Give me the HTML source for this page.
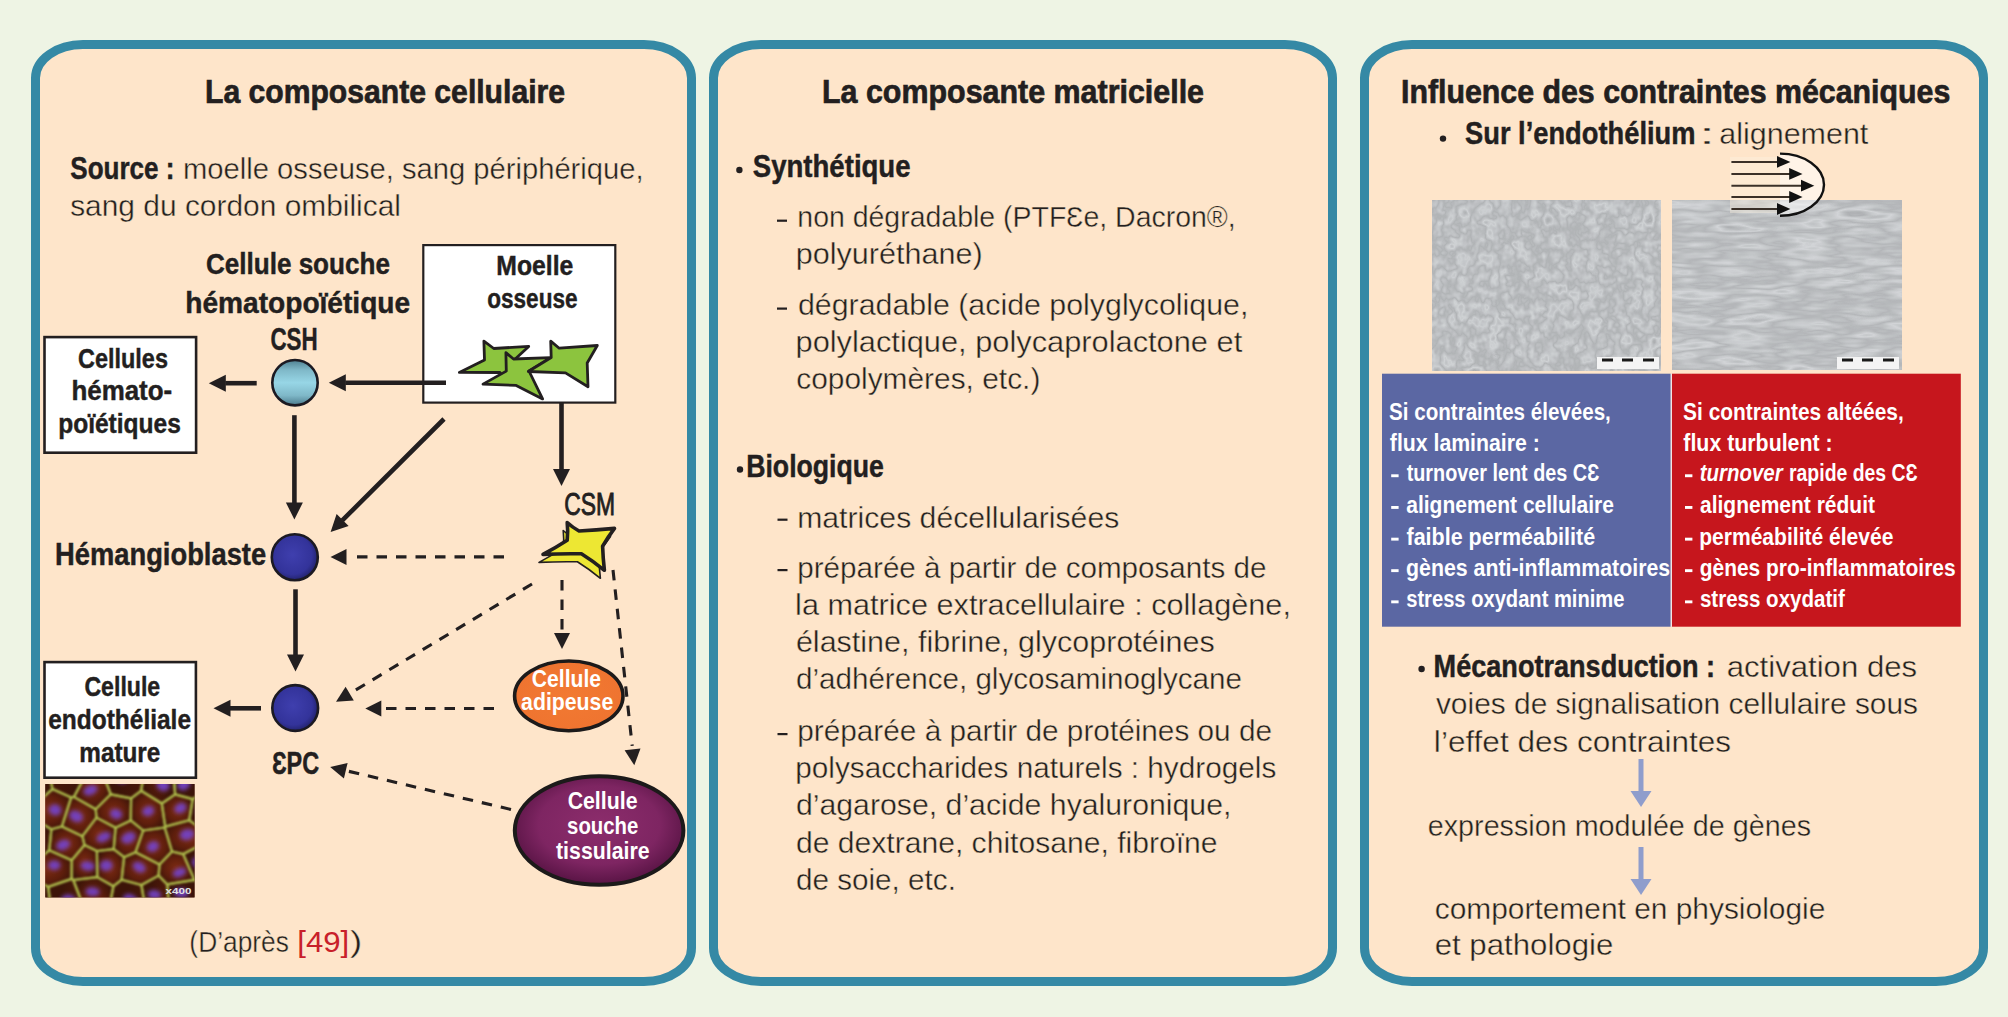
<!DOCTYPE html>
<html><head><meta charset="utf-8"><style>
html,body{margin:0;padding:0;background:#eef4e4;width:2008px;height:1017px;overflow:hidden}
svg{display:block;font-family:'Liberation Sans', sans-serif}
</style></head><body>
<svg width="2008" height="1017" viewBox="0 0 2008 1017">
<defs><linearGradient id="gCSH" x1="0" y1="0" x2="0" y2="1"><stop offset="0" stop-color="#4f8091"/><stop offset="0.22" stop-color="#7fb8c8"/><stop offset="0.5" stop-color="#97d6e6"/><stop offset="0.78" stop-color="#7fb8c8"/><stop offset="1" stop-color="#4b7a8c"/></linearGradient>
<radialGradient id="gBlue" cx="0.45" cy="0.45" r="0.6"><stop offset="0" stop-color="#3f3fae"/><stop offset="0.7" stop-color="#33339a"/><stop offset="1" stop-color="#1e1e60"/></radialGradient>
<radialGradient id="gOrange" cx="0.5" cy="0.5" r="0.6"><stop offset="0" stop-color="#f27a32"/><stop offset="0.8" stop-color="#ef7430"/><stop offset="1" stop-color="#d8601f"/></radialGradient>
<radialGradient id="gPurple" cx="0.5" cy="0.45" r="0.6"><stop offset="0" stop-color="#8c2d6c"/><stop offset="0.6" stop-color="#7e2562"/><stop offset="1" stop-color="#4e0f3c"/></radialGradient>
<clipPath id="cFluo"><rect x="45.3" y="784.1" width="149.3" height="113.3"/></clipPath>
<radialGradient id="gCellF" cx="0.5" cy="0.5" r="0.55"><stop offset="0" stop-color="#7e2c12"/><stop offset="0.6" stop-color="#5e1e0c"/><stop offset="1" stop-color="#3c1408"/></radialGradient>
<filter id="fBl1" x="-20%" y="-20%" width="140%" height="140%"><feGaussianBlur stdDeviation="2.0"/></filter>
<filter id="fBl2" x="-20%" y="-20%" width="140%" height="140%"><feGaussianBlur stdDeviation="1.0"/></filter>
<filter id="fMicroA" x="0" y="0" width="100%" height="100%" color-interpolation-filters="sRGB"><feTurbulence type="fractalNoise" baseFrequency="0.07 0.06" numOctaves="3" seed="3" result="n"/><feColorMatrix in="n" type="matrix" values="0.33 0.33 0.33 0 0  0.33 0.33 0.33 0 0  0.33 0.33 0.33 0 0  0 0 0 0 1" result="g"/><feComponentTransfer in="g" result="t"><feFuncR type="table" tableValues="0.715 0.795 0.675 0.815 0.695 0.805 0.685 0.785 0.725"/><feFuncG type="table" tableValues="0.725 0.805 0.685 0.825 0.705 0.815 0.695 0.795 0.735"/><feFuncB type="table" tableValues="0.735 0.815 0.695 0.835 0.715 0.825 0.705 0.805 0.745"/></feComponentTransfer><feGaussianBlur in="t" stdDeviation="0.6"/></filter>
<filter id="fMicroB" x="0" y="0" width="100%" height="100%" color-interpolation-filters="sRGB"><feTurbulence type="fractalNoise" baseFrequency="0.018 0.09" numOctaves="3" seed="7" result="n"/><feColorMatrix in="n" type="matrix" values="0.33 0.33 0.33 0 0  0.33 0.33 0.33 0 0  0.33 0.33 0.33 0 0  0 0 0 0 1" result="g"/><feComponentTransfer in="g" result="t"><feFuncR type="table" tableValues="0.725 0.805 0.685 0.825 0.705 0.815 0.695 0.795 0.735"/><feFuncG type="table" tableValues="0.735 0.815 0.695 0.835 0.715 0.825 0.705 0.805 0.745"/><feFuncB type="table" tableValues="0.745 0.825 0.705 0.845 0.725 0.835 0.715 0.815 0.755"/></feComponentTransfer><feGaussianBlur in="t" stdDeviation="0.6"/></filter></defs>
<rect x="35.5" y="44.5" width="656" height="937" rx="47.5" ry="33.5" fill="#fee5ca" stroke="#3589a5" stroke-width="9"/>
<rect x="713.5" y="44.5" width="619" height="937" rx="47.5" ry="33.5" fill="#fee5ca" stroke="#3589a5" stroke-width="9"/>
<rect x="1364.5" y="44.5" width="619" height="937" rx="47.5" ry="33.5" fill="#fee5ca" stroke="#3589a5" stroke-width="9"/>
<text x="204.98" y="103" font-size="34" font-weight="bold" textLength="360.05" lengthAdjust="spacingAndGlyphs" fill="#231f20" stroke="#231f20" stroke-width="0.7">La composante cellulaire</text>
<text x="821.97" y="103" font-size="34" font-weight="bold" textLength="382.07" lengthAdjust="spacingAndGlyphs" fill="#231f20" stroke="#231f20" stroke-width="0.7">La composante matricielle</text>
<text x="1400.97" y="103" font-size="34" font-weight="bold" textLength="549.27" lengthAdjust="spacingAndGlyphs" fill="#231f20" stroke="#231f20" stroke-width="0.7">Influence des contraintes mécaniques</text>
<text x="70.25" y="178.6" font-size="32" font-weight="bold" textLength="104.26" lengthAdjust="spacingAndGlyphs" fill="#231f20" stroke="#231f20" stroke-width="0.45">Source :</text>
<text x="183.06" y="178.6" font-size="30" textLength="460.56" lengthAdjust="spacingAndGlyphs" fill="#231f20" stroke="#fee5ca" stroke-width="0.4">moelle osseuse, sang périphérique,</text>
<text x="70.17" y="215.5" font-size="30" textLength="330.83" lengthAdjust="spacingAndGlyphs" fill="#231f20" stroke="#fee5ca" stroke-width="0.4">sang du cordon ombilical</text>
<text x="189.37" y="951.5" font-size="30" textLength="99.59" lengthAdjust="spacingAndGlyphs" fill="#231f20" stroke="#fee5ca" stroke-width="0.4">(D’après</text>
<text x="297.28" y="951.5" font-size="30" textLength="51.94" lengthAdjust="spacingAndGlyphs" fill="#c8202a" >[49]</text>
<text x="349.78" y="951.5" font-size="30" textLength="12.56" lengthAdjust="spacingAndGlyphs" fill="#231f20" stroke="#fee5ca" stroke-width="0.4">)</text>
<circle cx="739.4" cy="170" r="3.2" fill="#231f20"/>
<text x="752.81" y="177.4" font-size="32" font-weight="bold" textLength="157.74" lengthAdjust="spacingAndGlyphs" fill="#231f20" stroke="#231f20" stroke-width="0.45">Synthétique</text>
<rect x="777" y="219.6" width="10" height="2.2" fill="#231f20"/>
<text x="797.31" y="227.4" font-size="30" textLength="438.45" lengthAdjust="spacingAndGlyphs" fill="#231f20" stroke="#fee5ca" stroke-width="0.4">non dégradable (PTFƐe, Dacron®,</text>
<text x="795.73" y="264.3" font-size="30" textLength="186.86" lengthAdjust="spacingAndGlyphs" fill="#231f20" stroke="#fee5ca" stroke-width="0.4">polyuréthane)</text>
<rect x="777" y="307.5" width="10" height="2.2" fill="#231f20"/>
<text x="797.93" y="315.2" font-size="30" textLength="450.5" lengthAdjust="spacingAndGlyphs" fill="#231f20" stroke="#fee5ca" stroke-width="0.4">dégradable (acide polyglycolique,</text>
<text x="795.52" y="352.2" font-size="30" textLength="446.71" lengthAdjust="spacingAndGlyphs" fill="#231f20" stroke="#fee5ca" stroke-width="0.4">polylactique, polycaprolactone et</text>
<text x="796.23" y="389.3" font-size="30" textLength="244.12" lengthAdjust="spacingAndGlyphs" fill="#231f20" stroke="#fee5ca" stroke-width="0.4">copolymères, etc.)</text>
<circle cx="740" cy="469.5" r="3.2" fill="#231f20"/>
<text x="746.22" y="477" font-size="32" font-weight="bold" textLength="137.69" lengthAdjust="spacingAndGlyphs" fill="#231f20" stroke="#231f20" stroke-width="0.45">Biologique</text>
<rect x="777.5" y="518.6" width="10" height="2.2" fill="#231f20"/>
<text x="797.2" y="527.6" font-size="30" textLength="322.1" lengthAdjust="spacingAndGlyphs" fill="#231f20" stroke="#fee5ca" stroke-width="0.4">matrices décellularisées</text>
<rect x="777.5" y="569" width="10" height="2.2" fill="#231f20"/>
<text x="797.29" y="577.5" font-size="30" textLength="469.22" lengthAdjust="spacingAndGlyphs" fill="#231f20" stroke="#fee5ca" stroke-width="0.4">préparée à partir de composants de</text>
<text x="795.13" y="615" font-size="30" textLength="495.82" lengthAdjust="spacingAndGlyphs" fill="#231f20" stroke="#fee5ca" stroke-width="0.4">la matrice extracellulaire : collagène,</text>
<text x="795.9" y="652.2" font-size="30" textLength="418.9" lengthAdjust="spacingAndGlyphs" fill="#231f20" stroke="#fee5ca" stroke-width="0.4">élastine, fibrine, glycoprotéines</text>
<text x="795.96" y="689.4" font-size="30" textLength="446.06" lengthAdjust="spacingAndGlyphs" fill="#231f20" stroke="#fee5ca" stroke-width="0.4">d’adhérence, glycosaminoglycane</text>
<rect x="777.5" y="733" width="10" height="2.2" fill="#231f20"/>
<text x="797.28" y="741" font-size="30" textLength="474.74" lengthAdjust="spacingAndGlyphs" fill="#231f20" stroke="#fee5ca" stroke-width="0.4">préparée à partir de protéines ou de</text>
<text x="795.28" y="777.5" font-size="30" textLength="480.99" lengthAdjust="spacingAndGlyphs" fill="#231f20" stroke="#fee5ca" stroke-width="0.4">polysaccharides naturels : hydrogels</text>
<text x="795.93" y="815.2" font-size="30" textLength="435.49" lengthAdjust="spacingAndGlyphs" fill="#231f20" stroke="#fee5ca" stroke-width="0.4">d’agarose, d’acide hyaluronique,</text>
<text x="795.94" y="852.5" font-size="30" textLength="421.6" lengthAdjust="spacingAndGlyphs" fill="#231f20" stroke="#fee5ca" stroke-width="0.4">de dextrane, chitosane, fibroïne</text>
<text x="795.95" y="889.8" font-size="30" textLength="159.95" lengthAdjust="spacingAndGlyphs" fill="#231f20" stroke="#fee5ca" stroke-width="0.4">de soie, etc.</text>
<circle cx="1443" cy="138.6" r="3.2" fill="#231f20"/>
<text x="1465.01" y="144.4" font-size="32" font-weight="bold" textLength="230.48" lengthAdjust="spacingAndGlyphs" fill="#231f20" stroke="#231f20" stroke-width="0.45">Sur l’endothélium</text>
<text x="1698.25" y="144.4" font-size="30" textLength="17.51" lengthAdjust="spacingAndGlyphs" fill="#231f20" stroke="#fee5ca" stroke-width="0.4">:</text>
<text x="1719.31" y="144.4" font-size="30" textLength="149.02" lengthAdjust="spacingAndGlyphs" fill="#231f20" stroke="#fee5ca" stroke-width="0.4">alignement</text>
<circle cx="1421.6" cy="669" r="3.2" fill="#231f20"/>
<text x="1433.59" y="676.5" font-size="32" font-weight="bold" textLength="281.42" lengthAdjust="spacingAndGlyphs" fill="#231f20" stroke="#231f20" stroke-width="0.45">Mécanotransduction :</text>
<text x="1726.68" y="676.5" font-size="30" textLength="190.45" lengthAdjust="spacingAndGlyphs" fill="#231f20" stroke="#fee5ca" stroke-width="0.4">activation des</text>
<text x="1435.9" y="714.3" font-size="30" textLength="482.18" lengthAdjust="spacingAndGlyphs" fill="#231f20" stroke="#fee5ca" stroke-width="0.4">voies de signalisation cellulaire sous</text>
<text x="1433.88" y="752.2" font-size="30" textLength="297.26" lengthAdjust="spacingAndGlyphs" fill="#231f20" stroke="#fee5ca" stroke-width="0.4">l’effet des contraintes</text>
<text x="1427.78" y="835.9" font-size="30" textLength="383.26" lengthAdjust="spacingAndGlyphs" fill="#231f20" stroke="#fee5ca" stroke-width="0.4">expression modulée de gènes</text>
<text x="1434.73" y="919" font-size="30" textLength="390.6" lengthAdjust="spacingAndGlyphs" fill="#231f20" stroke="#fee5ca" stroke-width="0.4">comportement en physiologie</text>
<text x="1434.67" y="955" font-size="30" textLength="178.71" lengthAdjust="spacingAndGlyphs" fill="#231f20" stroke="#fee5ca" stroke-width="0.4">et pathologie</text>
<rect x="44.5" y="337.1" width="151.6" height="115.6" fill="#ffffff" stroke="#231f20" stroke-width="2.6"/>
<rect x="44.5" y="662.0999999999999" width="151.4" height="115.60000000000005" fill="#ffffff" stroke="#231f20" stroke-width="2.6"/>
<rect x="423.3" y="245.1" width="192.0" height="157.5" fill="#ffffff" stroke="#231f20" stroke-width="2.2"/>
<text x="205.93" y="274.3" font-size="30" font-weight="bold" textLength="183.96" lengthAdjust="spacingAndGlyphs" fill="#231f20" stroke="#231f20" stroke-width="0.45">Cellule souche</text>
<text x="185.24" y="312.5" font-size="30" font-weight="bold" textLength="224.92" lengthAdjust="spacingAndGlyphs" fill="#231f20" stroke="#231f20" stroke-width="0.45">hématopoïétique</text>
<text x="270.48" y="349.6" font-size="32" font-weight="bold" textLength="47.22" lengthAdjust="spacingAndGlyphs" fill="#231f20" stroke="#231f20" stroke-width="0.45">CSH</text>
<text x="78.04" y="367.7" font-size="28" font-weight="bold" textLength="89.92" lengthAdjust="spacingAndGlyphs" fill="#231f20" stroke="#231f20" stroke-width="0.45">Cellules</text>
<text x="71.39" y="400.3" font-size="28" font-weight="bold" textLength="100.85" lengthAdjust="spacingAndGlyphs" fill="#231f20" stroke="#231f20" stroke-width="0.45">hémato-</text>
<text x="58.18" y="432.9" font-size="28" font-weight="bold" textLength="122.62" lengthAdjust="spacingAndGlyphs" fill="#231f20" stroke="#231f20" stroke-width="0.45">poïétiques</text>
<text x="84.45" y="695.6" font-size="28" font-weight="bold" textLength="75.74" lengthAdjust="spacingAndGlyphs" fill="#231f20" stroke="#231f20" stroke-width="0.45">Cellule</text>
<text x="48.24" y="729.1" font-size="28" font-weight="bold" textLength="142.79" lengthAdjust="spacingAndGlyphs" fill="#231f20" stroke="#231f20" stroke-width="0.45">endothéliale</text>
<text x="79.3" y="762.1" font-size="28" font-weight="bold" textLength="81.03" lengthAdjust="spacingAndGlyphs" fill="#231f20" stroke="#231f20" stroke-width="0.45">mature</text>
<text x="496.34" y="275.4" font-size="28" font-weight="bold" textLength="77.0" lengthAdjust="spacingAndGlyphs" fill="#231f20" stroke="#231f20" stroke-width="0.45">Moelle</text>
<text x="487.22" y="308.1" font-size="28" font-weight="bold" textLength="90.35" lengthAdjust="spacingAndGlyphs" fill="#231f20" stroke="#231f20" stroke-width="0.45">osseuse</text>
<text x="55.07" y="564.5" font-size="31" font-weight="bold" textLength="211.06" lengthAdjust="spacingAndGlyphs" fill="#231f20" stroke="#231f20" stroke-width="0.45">Hémangioblaste</text>
<text x="271.92" y="773.7" font-size="31" font-weight="bold" textLength="47.22" lengthAdjust="spacingAndGlyphs" fill="#231f20" stroke="#231f20" stroke-width="0.45">ƐPC</text>
<text x="564.34" y="515.4" font-size="31" textLength="50.84" lengthAdjust="spacingAndGlyphs" fill="#231f20" stroke="#231f20" stroke-width="0.9">CSM</text>
<polygon points="483.9,341.1 493.8,348.5 528.7,346.4 512.0,362.0 506.0,381.0 500.0,372.5 459.3,372.4 484.5,360.0" fill="#8cc43e" stroke="#231f20" stroke-width="2.8" stroke-linejoin="round"/>
<polygon points="505.9,352.7 513.5,359.0 550.5,357.6 529.0,371.0 542.6,398.9 516.2,385.4 483.0,384.1 506.3,371.1" fill="#8cc43e" stroke="#231f20" stroke-width="2.8" stroke-linejoin="round"/>
<polygon points="550.7,341.1 559.2,348.2 597.3,345.5 587.2,363.0 588.0,386.8 565.5,372.9 528.3,371.5 551.2,357.6" fill="#8cc43e" stroke="#231f20" stroke-width="2.8" stroke-linejoin="round"/>
<circle cx="295" cy="382.7" r="22.7" fill="url(#gCSH)" stroke="#1c1a22" stroke-width="2.6"/>
<circle cx="294.8" cy="557.2" r="23.0" fill="url(#gBlue)" stroke="#1c1a22" stroke-width="2.6"/>
<circle cx="295.2" cy="708" r="22.9" fill="url(#gBlue)" stroke="#1c1a22" stroke-width="2.6"/>
<line x1="446.0" y1="382.7" x2="345.3" y2="382.7" stroke="#231f20" stroke-width="4.6"/>
<polygon points="328.8,382.7 345.8,374.2 345.8,391.2" fill="#231f20"/>
<line x1="256.7" y1="383.2" x2="225.3" y2="383.2" stroke="#231f20" stroke-width="4.6"/>
<polygon points="208.8,383.2 225.8,374.7 225.8,391.7" fill="#231f20"/>
<line x1="294.4" y1="415.2" x2="294.4" y2="503.0" stroke="#231f20" stroke-width="4.6"/>
<polygon points="294.4,519.5 285.9,502.5 302.9,502.5" fill="#231f20"/>
<line x1="444.0" y1="419.0" x2="342.3" y2="520.4" stroke="#231f20" stroke-width="4.6"/>
<polygon points="330.6,532.0 336.6,514.0 348.6,526.0" fill="#231f20"/>
<line x1="561.5" y1="403.0" x2="561.5" y2="469.5" stroke="#231f20" stroke-width="4.6"/>
<polygon points="561.5,486.0 553.0,469.0 570.0,469.0" fill="#231f20"/>
<line x1="295.5" y1="589.3" x2="295.5" y2="655.0" stroke="#231f20" stroke-width="4.6"/>
<polygon points="295.5,671.5 287.0,654.5 304.0,654.5" fill="#231f20"/>
<line x1="261.0" y1="708.3" x2="230.0" y2="708.3" stroke="#231f20" stroke-width="4.6"/>
<polygon points="213.5,708.3 230.5,699.8 230.5,716.8" fill="#231f20"/>
<path d="M563.2,530.5 Q568.2,535.2 575.0,539.0 Q591.8,538.1 610.5,536.4 Q604.0,545.0 598.6,554.1 Q599.0,565.9 600.4,578.3 Q589.5,569.4 577.4,561.8 Q558.8,561.4 539.0,562.4 Q552.1,555.4 563.2,548.2 Q564.2,539.5 563.2,530.5 Z" fill="#ede733" stroke="#231f20" stroke-width="1.6" stroke-linejoin="round"/>
<path d="M567.2,522.5 Q572.2,527.2 579.0,531.0 Q595.8,530.1 614.5,528.4 Q608.0,537.0 602.6,546.1 Q603.0,557.9 604.4,570.3 Q593.5,561.4 581.4,553.8 Q562.8,553.4 543.0,554.4 Q556.1,547.4 567.2,540.2 Q568.2,531.5 567.2,522.5 Z" fill="#ede733" stroke="#231f20" stroke-width="3.6" stroke-linejoin="round"/>
<line x1="504.0" y1="556.9" x2="355.0" y2="556.9" stroke="#231f20" stroke-width="3.1" stroke-dasharray="10.5 9"/>
<polygon points="330.5,556.9 346.5,548.9 346.5,564.9" fill="#231f20"/>
<line x1="532.0" y1="584.0" x2="352.7" y2="691.8" stroke="#231f20" stroke-width="3.1" stroke-dasharray="10.5 9"/>
<polygon points="336.0,701.8 345.6,686.7 353.8,700.4" fill="#231f20"/>
<line x1="562.0" y1="580.0" x2="562.0" y2="629.5" stroke="#231f20" stroke-width="3.1" stroke-dasharray="10.5 9"/>
<polygon points="562.0,649.0 554.0,633.0 570.0,633.0" fill="#231f20"/>
<line x1="494.0" y1="708.5" x2="381.8" y2="708.5" stroke="#231f20" stroke-width="3.1" stroke-dasharray="10.5 9"/>
<polygon points="365.3,708.5 381.3,700.5 381.3,716.5" fill="#231f20"/>
<line x1="613.0" y1="570.0" x2="632.2" y2="745.9" stroke="#231f20" stroke-width="3.1" stroke-dasharray="10.5 9"/>
<polygon points="634.3,765.3 624.6,750.3 640.5,748.5" fill="#231f20"/>
<line x1="511.0" y1="809.5" x2="348.2" y2="771.2" stroke="#231f20" stroke-width="3.1" stroke-dasharray="10.5 9"/>
<polygon points="330.2,767.0 347.6,762.9 343.9,778.4" fill="#231f20"/>
<ellipse cx="568.8" cy="695.9" rx="54.2" ry="34.9" fill="url(#gOrange)" stroke="#1c1a1a" stroke-width="3.6"/>
<ellipse cx="599.1" cy="830.5" rx="84.3" ry="54.3" fill="url(#gPurple)" stroke="#1c1a1a" stroke-width="4"/>
<text x="531.83" y="687.3" font-size="24" font-weight="bold" textLength="69.19" lengthAdjust="spacingAndGlyphs" fill="#ffffff" >Cellule</text>
<text x="521.08" y="710.3" font-size="24" font-weight="bold" textLength="92.15" lengthAdjust="spacingAndGlyphs" fill="#ffffff" >adipeuse</text>
<text x="567.63" y="809.3" font-size="24" font-weight="bold" textLength="69.9" lengthAdjust="spacingAndGlyphs" fill="#ffffff" >Cellule</text>
<text x="567.08" y="834.4" font-size="24" font-weight="bold" textLength="71.21" lengthAdjust="spacingAndGlyphs" fill="#ffffff" >souche</text>
<text x="556.04" y="859.4" font-size="24" font-weight="bold" textLength="93.49" lengthAdjust="spacingAndGlyphs" fill="#ffffff" >tissulaire</text>
<g clip-path="url(#cFluo)">
<rect x="45.3" y="784.1" width="149.3" height="113.3" fill="#5a1c0c"/>
<path d="M24.9,813.6 L-522.5,843.3 L-525.7,840.8 L-26.2,354.0 L52.4,789.1Z" fill="url(#gCellF)"/>
<path d="M95.9,755.8 L110.7,208.6 L-26.2,354.0 L52.4,789.1 L71.2,797.4 L73.9,796.9Z" fill="url(#gCellF)"/>
<path d="M95.9,755.8 L73.9,796.9 L95.7,809.3 L110.8,794.3Z" fill="url(#gCellF)"/>
<path d="M141.1,790.8 L131.1,798.3 L110.8,794.3 L95.9,755.8 L110.7,208.6 L120.0,197.8 L194.9,284.7 L164.6,647.0Z" fill="url(#gCellF)"/>
<path d="M161.8,803.5 L141.1,790.8 L164.6,647.0 L175.1,794.4Z" fill="url(#gCellF)"/>
<path d="M175.1,794.4 L192.7,799.1 L506.7,602.2 L194.9,284.7 L164.6,647.0Z" fill="url(#gCellF)"/>
<path d="M61.9,826.5 L71.2,797.4 L52.4,789.1 L24.9,813.6 L51.4,829.2Z" fill="url(#gCellF)"/>
<path d="M73.9,796.9 L71.2,797.4 L61.9,826.5 L82.4,836.2 L96.5,817.6 L95.7,809.3Z" fill="url(#gCellF)"/>
<path d="M110.8,794.3 L131.1,798.3 L130.7,820.4 L115.6,827.7 L96.5,817.6 L95.7,809.3Z" fill="url(#gCellF)"/>
<path d="M164.7,827.5 L143.2,830.5 L130.7,820.4 L131.1,798.3 L141.1,790.8 L161.8,803.5 L165.2,826.6Z" fill="url(#gCellF)"/>
<path d="M165.2,826.6 L161.8,803.5 L175.1,794.4 L192.7,799.1 L189.2,820.3Z" fill="url(#gCellF)"/>
<path d="M189.2,820.3 L192.7,799.1 L506.7,602.2 L762.9,840.8 L729.4,868.9 L214.4,838.0Z" fill="url(#gCellF)"/>
<path d="M22.8,872.7 L-515.7,849.3 L-522.5,843.3 L24.9,813.6 L51.4,829.2 L49.2,850.3Z" fill="url(#gCellF)"/>
<path d="M71.7,860.3 L84.5,845.0 L82.4,836.2 L61.9,826.5 L51.4,829.2 L49.2,850.3Z" fill="url(#gCellF)"/>
<path d="M96.9,851.0 L84.5,845.0 L82.4,836.2 L96.5,817.6 L115.6,827.7 L113.7,849.2Z" fill="url(#gCellF)"/>
<path d="M113.7,849.2 L115.6,827.7 L130.7,820.4 L143.2,830.5 L135.5,852.3 L124.1,857.2Z" fill="url(#gCellF)"/>
<path d="M172.0,851.5 L164.7,827.5 L143.2,830.5 L135.5,852.3 L159.5,864.4Z" fill="url(#gCellF)"/>
<path d="M172.0,851.5 L164.7,827.5 L165.2,826.6 L189.2,820.3 L214.4,838.0 L183.2,854.1Z" fill="url(#gCellF)"/>
<path d="M71.7,860.3 L49.2,850.3 L22.8,872.7 L48.2,886.9 L71.6,878.9Z" fill="url(#gCellF)"/>
<path d="M96.9,851.0 L84.5,845.0 L71.7,860.3 L71.6,878.9 L73.3,880.0 L97.3,877.1Z" fill="url(#gCellF)"/>
<path d="M96.9,851.0 L97.3,877.1 L113.4,886.2 L121.6,879.8 L124.1,857.2 L113.7,849.2Z" fill="url(#gCellF)"/>
<path d="M158.6,875.6 L141.4,885.0 L121.6,879.8 L124.1,857.2 L135.5,852.3 L159.5,864.4Z" fill="url(#gCellF)"/>
<path d="M158.6,875.6 L159.5,864.4 L172.0,851.5 L183.2,854.1 L194.4,879.9 L167.3,884.4Z" fill="url(#gCellF)"/>
<path d="M183.2,854.1 L214.4,838.0 L729.4,868.9 L510.8,1071.0 L194.4,879.9Z" fill="url(#gCellF)"/>
<path d="M48.2,886.9 L110.4,1382.6 L115.7,1473.9 L-515.7,849.3 L22.8,872.7Z" fill="url(#gCellF)"/>
<path d="M71.6,878.9 L73.3,880.0 L100.9,952.4 L110.4,1382.6 L48.2,886.9Z" fill="url(#gCellF)"/>
<path d="M97.3,877.1 L73.3,880.0 L100.9,952.4 L113.4,886.2Z" fill="url(#gCellF)"/>
<path d="M121.6,879.8 L141.4,885.0 L188.2,1160.7 L213.4,1373.6 L119.9,1478.9 L115.7,1473.9 L110.4,1382.6 L100.9,952.4 L113.4,886.2Z" fill="url(#gCellF)"/>
<path d="M158.6,875.6 L141.4,885.0 L188.2,1160.7 L167.3,884.4Z" fill="url(#gCellF)"/>
<path d="M167.3,884.4 L188.2,1160.7 L213.4,1373.6 L510.8,1071.0 L194.4,879.9Z" fill="url(#gCellF)"/>
<g filter="url(#fBl1)">
<ellipse cx="31.1" cy="785.0" rx="6.0" ry="5.6" transform="rotate(-2 32.6 784.1)" fill="#7444cc" opacity="0.9"/>
<ellipse cx="70.7" cy="775.6" rx="6.4" ry="4.5" transform="rotate(6 69.1 777.5)" fill="#7444cc" opacity="0.9"/>
<ellipse cx="90.7" cy="789.3" rx="7.4" ry="4.7" transform="rotate(-24 92.6 790.1)" fill="#7444cc" opacity="0.9"/>
<ellipse cx="120.3" cy="778.2" rx="7.3" ry="5.1" transform="rotate(21 121.4 778.9)" fill="#7444cc" opacity="0.9"/>
<ellipse cx="162.9" cy="785.6" rx="6.5" ry="5.8" transform="rotate(26 163.6 785.8)" fill="#7444cc" opacity="0.9"/>
<ellipse cx="183.6" cy="783.9" rx="6.6" ry="5.4" transform="rotate(-28 185.3 784.3)" fill="#7444cc" opacity="0.9"/>
<ellipse cx="55.2" cy="809.9" rx="6.4" ry="5.6" transform="rotate(15 55.0 809.3)" fill="#7444cc" opacity="0.9"/>
<ellipse cx="76.2" cy="817.0" rx="7.2" ry="5.5" transform="rotate(26 77.6 816.5)" fill="#7444cc" opacity="0.9"/>
<ellipse cx="116.4" cy="813.6" rx="6.3" ry="5.0" transform="rotate(17 114.9 812.6)" fill="#7444cc" opacity="0.9"/>
<ellipse cx="148.8" cy="811.7" rx="6.1" ry="4.9" transform="rotate(-20 146.8 813.1)" fill="#7444cc" opacity="0.9"/>
<ellipse cx="180.4" cy="808.8" rx="6.4" ry="4.9" transform="rotate(-26 178.9 808.3)" fill="#7444cc" opacity="0.9"/>
<ellipse cx="203.3" cy="811.1" rx="6.3" ry="5.1" transform="rotate(-25 202.8 812.2)" fill="#7444cc" opacity="0.9"/>
<ellipse cx="36.3" cy="841.3" rx="6.1" ry="4.6" transform="rotate(3 35.8 842.0)" fill="#7444cc" opacity="0.9"/>
<ellipse cx="63.3" cy="844.6" rx="7.2" ry="4.9" transform="rotate(-22 64.0 845.0)" fill="#7444cc" opacity="0.9"/>
<ellipse cx="102.9" cy="837.4" rx="7.6" ry="4.6" transform="rotate(-25 102.7 835.6)" fill="#7444cc" opacity="0.9"/>
<ellipse cx="128.2" cy="838.4" rx="7.6" ry="5.4" transform="rotate(-26 127.0 837.6)" fill="#7444cc" opacity="0.9"/>
<ellipse cx="152.6" cy="847.2" rx="6.3" ry="5.1" transform="rotate(-27 151.4 846.3)" fill="#7444cc" opacity="0.9"/>
<ellipse cx="187.3" cy="834.8" rx="7.4" ry="5.5" transform="rotate(-14 186.2 835.8)" fill="#7444cc" opacity="0.9"/>
<ellipse cx="54.3" cy="865.3" rx="6.2" ry="4.9" transform="rotate(-0 55.2 864.9)" fill="#7444cc" opacity="0.9"/>
<ellipse cx="87.7" cy="866.1" rx="7.1" ry="4.7" transform="rotate(7 88.2 865.1)" fill="#7444cc" opacity="0.9"/>
<ellipse cx="106.2" cy="865.6" rx="6.5" ry="5.5" transform="rotate(-5 105.9 864.9)" fill="#7444cc" opacity="0.9"/>
<ellipse cx="138.6" cy="867.9" rx="6.9" ry="4.8" transform="rotate(29 140.2 868.6)" fill="#7444cc" opacity="0.9"/>
<ellipse cx="179.1" cy="873.0" rx="7.0" ry="4.4" transform="rotate(-21 177.9 871.8)" fill="#7444cc" opacity="0.9"/>
<ellipse cx="199.0" cy="862.9" rx="7.1" ry="5.7" transform="rotate(15 199.8 862.3)" fill="#7444cc" opacity="0.9"/>
<ellipse cx="31.7" cy="905.9" rx="6.6" ry="5.4" transform="rotate(-7 33.1 904.4)" fill="#7444cc" opacity="0.9"/>
<ellipse cx="68.3" cy="899.9" rx="7.2" ry="5.4" transform="rotate(4 67.1 900.1)" fill="#7444cc" opacity="0.9"/>
<ellipse cx="92.6" cy="891.7" rx="7.0" ry="4.5" transform="rotate(3 91.3 890.9)" fill="#7444cc" opacity="0.9"/>
<ellipse cx="130.7" cy="900.1" rx="7.4" ry="5.1" transform="rotate(23 132.3 898.6)" fill="#7444cc" opacity="0.9"/>
<ellipse cx="154.4" cy="894.6" rx="6.7" ry="4.5" transform="rotate(7 154.6 894.8)" fill="#7444cc" opacity="0.9"/>
<ellipse cx="181.0" cy="892.9" rx="7.5" ry="4.6" transform="rotate(7 181.4 892.8)" fill="#7444cc" opacity="0.9"/>
</g>
<g filter="url(#fBl2)" fill="none" stroke="#b2c24e" stroke-width="2.2" stroke-opacity="0.85" stroke-linejoin="round">
<path d="M24.9,813.6 L-522.5,843.3 L-525.7,840.8 L-26.2,354.0 L52.4,789.1Z"/>
<path d="M95.9,755.8 L110.7,208.6 L-26.2,354.0 L52.4,789.1 L71.2,797.4 L73.9,796.9Z"/>
<path d="M95.9,755.8 L73.9,796.9 L95.7,809.3 L110.8,794.3Z"/>
<path d="M141.1,790.8 L131.1,798.3 L110.8,794.3 L95.9,755.8 L110.7,208.6 L120.0,197.8 L194.9,284.7 L164.6,647.0Z"/>
<path d="M161.8,803.5 L141.1,790.8 L164.6,647.0 L175.1,794.4Z"/>
<path d="M175.1,794.4 L192.7,799.1 L506.7,602.2 L194.9,284.7 L164.6,647.0Z"/>
<path d="M61.9,826.5 L71.2,797.4 L52.4,789.1 L24.9,813.6 L51.4,829.2Z"/>
<path d="M73.9,796.9 L71.2,797.4 L61.9,826.5 L82.4,836.2 L96.5,817.6 L95.7,809.3Z"/>
<path d="M110.8,794.3 L131.1,798.3 L130.7,820.4 L115.6,827.7 L96.5,817.6 L95.7,809.3Z"/>
<path d="M164.7,827.5 L143.2,830.5 L130.7,820.4 L131.1,798.3 L141.1,790.8 L161.8,803.5 L165.2,826.6Z"/>
<path d="M165.2,826.6 L161.8,803.5 L175.1,794.4 L192.7,799.1 L189.2,820.3Z"/>
<path d="M189.2,820.3 L192.7,799.1 L506.7,602.2 L762.9,840.8 L729.4,868.9 L214.4,838.0Z"/>
<path d="M22.8,872.7 L-515.7,849.3 L-522.5,843.3 L24.9,813.6 L51.4,829.2 L49.2,850.3Z"/>
<path d="M71.7,860.3 L84.5,845.0 L82.4,836.2 L61.9,826.5 L51.4,829.2 L49.2,850.3Z"/>
<path d="M96.9,851.0 L84.5,845.0 L82.4,836.2 L96.5,817.6 L115.6,827.7 L113.7,849.2Z"/>
<path d="M113.7,849.2 L115.6,827.7 L130.7,820.4 L143.2,830.5 L135.5,852.3 L124.1,857.2Z"/>
<path d="M172.0,851.5 L164.7,827.5 L143.2,830.5 L135.5,852.3 L159.5,864.4Z"/>
<path d="M172.0,851.5 L164.7,827.5 L165.2,826.6 L189.2,820.3 L214.4,838.0 L183.2,854.1Z"/>
<path d="M71.7,860.3 L49.2,850.3 L22.8,872.7 L48.2,886.9 L71.6,878.9Z"/>
<path d="M96.9,851.0 L84.5,845.0 L71.7,860.3 L71.6,878.9 L73.3,880.0 L97.3,877.1Z"/>
<path d="M96.9,851.0 L97.3,877.1 L113.4,886.2 L121.6,879.8 L124.1,857.2 L113.7,849.2Z"/>
<path d="M158.6,875.6 L141.4,885.0 L121.6,879.8 L124.1,857.2 L135.5,852.3 L159.5,864.4Z"/>
<path d="M158.6,875.6 L159.5,864.4 L172.0,851.5 L183.2,854.1 L194.4,879.9 L167.3,884.4Z"/>
<path d="M183.2,854.1 L214.4,838.0 L729.4,868.9 L510.8,1071.0 L194.4,879.9Z"/>
<path d="M48.2,886.9 L110.4,1382.6 L115.7,1473.9 L-515.7,849.3 L22.8,872.7Z"/>
<path d="M71.6,878.9 L73.3,880.0 L100.9,952.4 L110.4,1382.6 L48.2,886.9Z"/>
<path d="M97.3,877.1 L73.3,880.0 L100.9,952.4 L113.4,886.2Z"/>
<path d="M121.6,879.8 L141.4,885.0 L188.2,1160.7 L213.4,1373.6 L119.9,1478.9 L115.7,1473.9 L110.4,1382.6 L100.9,952.4 L113.4,886.2Z"/>
<path d="M158.6,875.6 L141.4,885.0 L188.2,1160.7 L167.3,884.4Z"/>
<path d="M167.3,884.4 L188.2,1160.7 L213.4,1373.6 L510.8,1071.0 L194.4,879.9Z"/>
</g>
<text x="165.6" y="894.4" font-size="9" font-weight="bold" fill="#e0e0e0" textLength="26" lengthAdjust="spacingAndGlyphs">x400</text>
</g>
<rect x="1432.2" y="200.8" width="228.7" height="169.7" fill="#b5b7b9"/>
<rect x="1432.2" y="200.8" width="228.7" height="169.7" filter="url(#fMicroA)"/>
<rect x="1672.8" y="200.8" width="229" height="169.2" fill="#b9babc"/>
<rect x="1672.8" y="200.8" width="229" height="169.2" filter="url(#fMicroB)"/>
<rect x="1597" y="357" width="62" height="12" fill="#f4f4f4"/>
<rect x="1602" y="358.5" width="11" height="3" fill="#1a1a1a"/>
<rect x="1622" y="358.5" width="11" height="3" fill="#1a1a1a"/>
<rect x="1643" y="358.5" width="11" height="3" fill="#1a1a1a"/>
<rect x="1837" y="357" width="62" height="12" fill="#f4f4f4"/>
<rect x="1842" y="358.5" width="11" height="3" fill="#1a1a1a"/>
<rect x="1862" y="358.5" width="11" height="3" fill="#1a1a1a"/>
<rect x="1883" y="358.5" width="11" height="3" fill="#1a1a1a"/>
<rect x="1730" y="157" width="50" height="56" fill="#fdf3e2" opacity="0.4"/>
<path d="M1780,153.6 A44,31.1 0 0 1 1780,215.8 Z" fill="#ffffff" fill-opacity="0.55" stroke="none"/>
<path d="M1780,153.6 A44,31.1 0 0 1 1780,215.8" fill="none" stroke="#111" stroke-width="2.4"/>
<line x1="1731.4" y1="161.9" x2="1778" y2="161.9" stroke="#3a3028" stroke-width="2"/>
<polygon points="1790.4,161.9 1777,156.0 1777,167.8" fill="#111"/>
<line x1="1731.4" y1="173.9" x2="1790.2" y2="173.9" stroke="#3a3028" stroke-width="2"/>
<polygon points="1802.5,173.9 1789.2,168.0 1789.2,179.8" fill="#111"/>
<line x1="1731.4" y1="185.7" x2="1802" y2="185.7" stroke="#3a3028" stroke-width="2"/>
<polygon points="1814.3,185.7 1801,179.79999999999998 1801,191.6" fill="#111"/>
<line x1="1731.4" y1="197" x2="1790.2" y2="197" stroke="#3a3028" stroke-width="2"/>
<polygon points="1802.5,197 1789.2,191.1 1789.2,202.9" fill="#111"/>
<line x1="1731.4" y1="209" x2="1778" y2="209" stroke="#3a3028" stroke-width="2"/>
<polygon points="1790.4,209 1777,203.1 1777,214.9" fill="#111"/>
<rect x="1382" y="373.7" width="288.7" height="253" fill="#5b67a3"/>
<rect x="1671.8" y="373.7" width="289" height="253" fill="#c6161d"/>
<rect x="1670.8" y="373.7" width="1.0" height="253" fill="#f6eef0"/>
<text x="1389.11" y="419.9" font-size="23.5" font-weight="bold" textLength="221.67" lengthAdjust="spacingAndGlyphs" fill="#ffffff" >Si contraintes élevées,</text>
<text x="1389.84" y="450.5" font-size="23.5" font-weight="bold" textLength="149.91" lengthAdjust="spacingAndGlyphs" fill="#ffffff" >flux laminaire :</text>
<rect x="1391.2" y="474.3" width="7.4" height="2.9" fill="#fff"/>
<text x="1406.66" y="481.1" font-size="23.5" font-weight="bold" textLength="192.79" lengthAdjust="spacingAndGlyphs" fill="#ffffff" >turnover lent des CƐ</text>
<rect x="1391.2" y="506.0" width="7.4" height="2.9" fill="#fff"/>
<text x="1406.29" y="512.8" font-size="23.5" font-weight="bold" textLength="207.63" lengthAdjust="spacingAndGlyphs" fill="#ffffff" >alignement cellulaire</text>
<rect x="1391.2" y="537.7" width="7.4" height="2.9" fill="#fff"/>
<text x="1406.53" y="544.5" font-size="23.5" font-weight="bold" textLength="188.6" lengthAdjust="spacingAndGlyphs" fill="#ffffff" >faible perméabilité</text>
<rect x="1391.2" y="569.2" width="7.4" height="2.9" fill="#fff"/>
<text x="1406.03" y="576" font-size="23.5" font-weight="bold" textLength="264.15" lengthAdjust="spacingAndGlyphs" fill="#ffffff" >gènes anti-inflammatoires</text>
<rect x="1391.2" y="600.4" width="7.4" height="2.9" fill="#fff"/>
<text x="1406.19" y="607.2" font-size="23.5" font-weight="bold" textLength="218.3" lengthAdjust="spacingAndGlyphs" fill="#ffffff" >stress oxydant minime</text>
<text x="1683.1" y="419.9" font-size="23.5" font-weight="bold" textLength="220.6" lengthAdjust="spacingAndGlyphs" fill="#ffffff" >Si contraintes altéées,</text>
<text x="1683.34" y="450.5" font-size="23.5" font-weight="bold" textLength="149.32" lengthAdjust="spacingAndGlyphs" fill="#ffffff" >flux turbulent :</text>
<rect x="1685" y="474.3" width="7.4" height="2.9" fill="#fff"/>
<rect x="1685" y="506.0" width="7.4" height="2.9" fill="#fff"/>
<text x="1699.98" y="512.8" font-size="23.5" font-weight="bold" textLength="175.07" lengthAdjust="spacingAndGlyphs" fill="#ffffff" >alignement réduit</text>
<rect x="1685" y="537.7" width="7.4" height="2.9" fill="#fff"/>
<text x="1699.21" y="544.5" font-size="23.5" font-weight="bold" textLength="194.21" lengthAdjust="spacingAndGlyphs" fill="#ffffff" >perméabilité élevée</text>
<rect x="1685" y="569.2" width="7.4" height="2.9" fill="#fff"/>
<text x="1699.74" y="576" font-size="23.5" font-weight="bold" textLength="255.82" lengthAdjust="spacingAndGlyphs" fill="#ffffff" >gènes pro-inflammatoires</text>
<rect x="1685" y="600.4" width="7.4" height="2.9" fill="#fff"/>
<text x="1699.88" y="607.2" font-size="23.5" font-weight="bold" textLength="144.98" lengthAdjust="spacingAndGlyphs" fill="#ffffff" >stress oxydatif</text>
<text x="1699.74" y="481.1" font-size="23.5" font-weight="bold" font-style="italic" textLength="82.93" lengthAdjust="spacingAndGlyphs" fill="#ffffff" >turnover</text>
<text x="1789.02" y="481.1" font-size="23.5" font-weight="bold" textLength="128.72" lengthAdjust="spacingAndGlyphs" fill="#ffffff" >rapide des CƐ</text>
<rect x="1638.5" y="759" width="5" height="34" fill="#8f9dcc"/>
<polygon points="1641,807 1630.5,791 1651.5,791" fill="#8f9dcc"/>
<rect x="1638.5" y="847" width="5" height="34" fill="#8f9dcc"/>
<polygon points="1641,895 1630.5,879 1651.5,879" fill="#8f9dcc"/>
</svg>
</body></html>
